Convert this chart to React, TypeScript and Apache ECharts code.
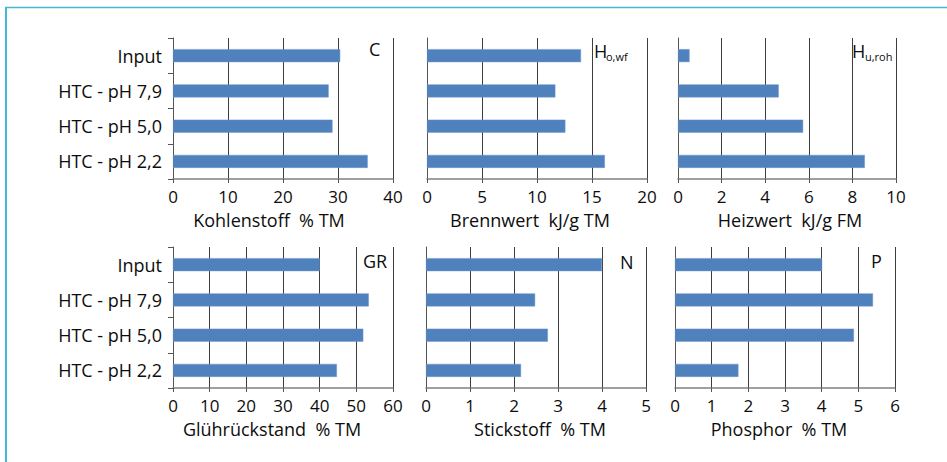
import React, { useEffect, useRef } from "react";
import * as echarts from "echarts";

const categories = ["Input", "HTC - pH 7,9", "HTC - pH 5,0", "HTC - pH 2,2"];

const kohlenstoff = [30.4, 28.3, 29.0, 35.4];
const brennwert = [14.0, 11.67, 12.58, 16.17];
const heizwert = [0.53, 4.62, 5.74, 8.57];
const gluehrueckstand = [40.0, 53.4, 51.9, 44.7];
const stickstoff = [4.0, 2.48, 2.77, 2.16];
const phosphor = [4.01, 5.4, 4.88, 1.73];

const axisNames = [
  "Kohlenstoff  % TM",
  "Brennwert  kJ/g TM",
  "Heizwert  kJ/g FM",
  "Glührückstand  % TM",
  "Stickstoff  % TM",
  "Phosphor  % TM",
];
const axisMax = [40, 20, 10, 60, 5, 6];
const axisInterval = [10, 5, 2, 10, 1, 1];

const FONT = "Open Sans";
const WEIGHT = 500;
const TEXT = "#0d0d0d";
const BAR = "#4f81bd";

export default function App() {
  const ref = useRef<HTMLDivElement>(null);
  useEffect(() => {
    if (!ref.current) return;
    const chart = echarts.init(ref.current, undefined, { renderer: "svg" });
    const seriesData = [kohlenstoff, brennwert, heizwert, gluehrueckstand, stickstoff, phosphor];
    const grids = [
      { left: 173, top: 38, width: 220, height: 141 },
      { left: 427, top: 38, width: 220, height: 141 },
      { left: 678, top: 38, width: 218, height: 141 },
      { left: 173, top: 247, width: 220, height: 141 },
      { left: 426, top: 247, width: 220, height: 141 },
      { left: 675, top: 247, width: 220, height: 141 },
    ];
    const nameShift = [-14, -7, 3, -11, 4, -6];
    const txt = (x: number, y: number, text: string, size = 18) => ({
      type: "text",
      x,
      y,
      style: { text, fontFamily: FONT, fontWeight: WEIGHT, fontSize: size, fill: TEXT, verticalAlign: "middle" },
    });
    const option: any = {
      animation: false,
      backgroundColor: "#ffffff",
      grid: grids.map((g) => ({ ...g, containLabel: false })),
      xAxis: grids.map((_, i) => ({
        type: "value",
        gridIndex: i,
        min: 0,
        max: axisMax[i],
        interval: axisInterval[i],
        name: axisNames[i],
        nameLocation: "middle",
        nameGap: 31,
        nameTextStyle: {
          fontFamily: FONT,
          fontWeight: WEIGHT,
          fontSize: 18,
          lineHeight: 20,
          color: TEXT,
          padding: nameShift[i] < 0 ? [0, -2 * nameShift[i], 0, 0] : [0, 0, 0, 2 * nameShift[i]],
        },
        axisLine: { show: true, lineStyle: { color: "#808080", width: 1.5 } },
        axisTick: { show: true, length: 4, lineStyle: { color: "#555" } },
        axisLabel: { fontFamily: FONT, fontWeight: WEIGHT, fontSize: 17, lineHeight: 18, color: TEXT, margin: 8 },
        splitLine: { show: true, lineStyle: { color: "#3d3d3d", width: 1 } },
      })),
      yAxis: grids.map((_, i) => ({
        type: "category",
        gridIndex: i,
        data: categories,
        inverse: true,
        axisLine: { show: true, lineStyle: { color: "#555", width: 1 } },
        axisTick: { show: i === 0 || i === 3, length: 5, lineStyle: { color: "#555" } },
        axisLabel: {
          show: i === 0 || i === 3,
          fontFamily: FONT,
          fontWeight: WEIGHT,
          fontSize: 18,
          color: TEXT,
          margin: 11,
        },
        splitLine: { show: false },
      })),
      series: seriesData.map((d, i) => ({
        type: "bar",
        xAxisIndex: i,
        yAxisIndex: i,
        data: d,
        barWidth: 13,
        itemStyle: { color: BAR, borderColor: "#6f97cc", borderWidth: 0.5 },
      })),
      graphic: [
        { type: "line", shape: { x1: 5, y1: 7.5, x2: 947, y2: 7.5 }, style: { stroke: "#45b8d2", lineWidth: 1.5 } },
        { type: "line", shape: { x1: 6, y1: 7, x2: 6, y2: 462 }, style: { stroke: "#45b8d2", lineWidth: 2 } },
        txt(369, 49, "C"),
        txt(594, 50.5, "H"),
        txt(606, 56, "o,wf", 11),
        txt(852, 50.5, "H"),
        txt(865, 56, "u,roh", 11),
        txt(363, 261, "GR"),
        txt(620, 261.5, "N"),
        txt(871, 261, "P"),
      ],
    };
    chart.setOption(option);
    return () => chart.dispose();
  }, []);
  return (
    <div
      ref={ref}
      style={{ position: "absolute", left: 0, top: 0, width: 947, height: 462 }}
    />
  );
}
